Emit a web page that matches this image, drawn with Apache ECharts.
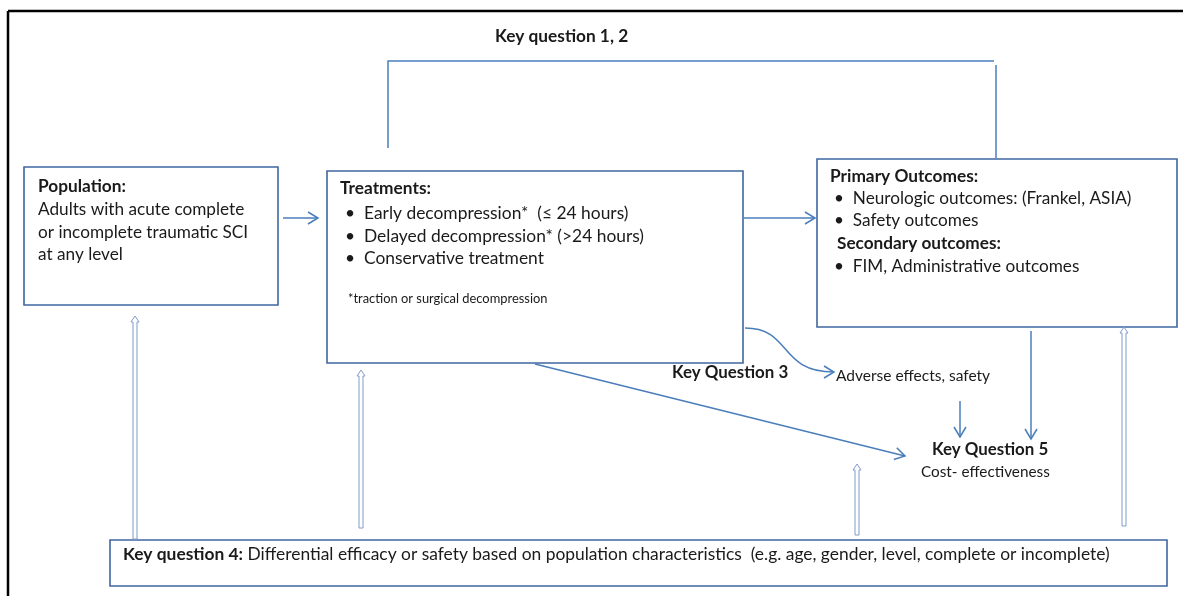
<!DOCTYPE html>
<html>
<head>
<meta charset="utf-8">
<script src="https://cdn.jsdelivr.net/npm/echarts@6/dist/echarts.min.js"></script>
<style>
  html, body { margin: 0; padding: 0; background: #fff; }
  #chart { width: 1183px; height: 596px; }
</style>
</head>
<body>
<div id="chart"></div>
<script>
// canvas is used as a plain x/y plane (pixels, y pointing down)
const W = 1183, H = 596;

// boxes: [x0, y0, x1, y1]
const boxes = [
  [24, 167, 278, 305],    // population
  [327, 171, 743, 363],   // treatments
  [817, 159, 1177, 327],  // outcomes
  [110, 540, 1167, 586]   // key question 4
];

// plain lines without heads (outer frame + key question 1,2 bracket)
const frameLines = [
  [[8, 11], [W, 11]],
  [[8, 11], [8, H]]
];
const bracketLines = [
  [[388, 148], [388, 61], [994, 61]],
  [[996, 65], [996, 158]]
];

// lines with an open arrow head at the last point
const arrowLines = [
  [[283, 218], [318, 218]],
  [[744, 218], [815, 218]],
  [[535, 364], [905, 456]],
  [[960, 401], [960, 437]],
  [[1031, 331], [1031, 439]]
];
// curved arrow: cubic bezier [start, ctrl1, ctrl2, end]
const curveArrows = [
  [[745, 328], [792, 328], [778, 372], [834, 372]]
];

// hollow up arrows: [x, yBottom, yTop]
const hollowArrows = [
  [135, 539, 316],
  [361, 528, 370],
  [857, 535, 464],
  [1124, 526, 327]
];

// texts: [x, y, text, size]  ({b|..} marks bold)
const texts = [
  [495, 36, '{b|Key question 1, 2}', 17.3],
  [38, 186, '{b|Population:}', 17.3],
  [38, 209, 'Adults with acute complete', 17.2],
  [38, 232, 'or incomplete traumatic SCI', 17.2],
  [38, 254, 'at any level', 17.2],
  [340, 188, '{b|Treatments:}', 17.3],
  [345, 213, '•  Early decompression*  (≤ 24 hours)', 17.4],
  [345, 236, '•  Delayed decompression* (>24 hours)', 17.4],
  [345, 258, '•  Conservative treatment', 17.4],
  [348, 299, '*traction or surgical decompression', 12.9],
  [830, 176, '{b|Primary Outcomes:}', 17.3],
  [834, 198, '•  Neurologic outcomes: (Frankel, ASIA)', 17.2],
  [834, 220, '•  Safety outcomes', 17.2],
  [837, 243, '{b|Secondary outcomes:}', 17.2],
  [834, 266, '•  FIM, Administrative outcomes', 17.2],
  [672, 373, '{b|Key Question 3}', 16.9],
  [836, 376, 'Adverse effects, safety', 15.5],
  [932, 450, '{b|Key Question 5}', 16.9],
  [921, 472, 'Cost- effectiveness', 15.3],
  [123, 554, '{b|Key question 4:} Differential efficacy or safety based on population characteristics  (e.g. age, gender, level, complete or incomplete)', 17.4]
];

const FONT = 'Lato, "Open Sans", sans-serif';
const BLUE = '#4a7ebb';
const BOX = '#4066a0';

const chart = echarts.init(document.getElementById('chart'));

const toPts = (api, pts) => pts.map(p => api.coord(p));

const headPts = (from, to, len, half) => {
  const dx = to[0] - from[0], dy = to[1] - from[1];
  const d = Math.sqrt(dx * dx + dy * dy) || 1;
  const ux = dx / d, uy = dy / d;
  return [
    [to[0] - ux * len - uy * half, to[1] - uy * len + ux * half],
    to,
    [to[0] - ux * len + uy * half, to[1] - uy * len - ux * half]
  ];
};

const option = {
  animation: false,
  grid: { left: 0, right: 0, top: 0, bottom: 0 },
  xAxis: { type: 'value', min: 0, max: W, show: false },
  yAxis: { type: 'value', min: 0, max: H, inverse: true, show: false },
  series: [
    {
      type: 'custom',
      name: 'frame',
      data: frameLines.map((l, i) => [i]),
      renderItem: (params, api) => ({
        type: 'polyline',
        shape: { points: toPts(api, frameLines[params.dataIndex]) },
        style: { stroke: '#000', lineWidth: 2.5, fill: null }
      })
    },
    {
      type: 'custom',
      name: 'boxes',
      data: boxes,
      renderItem: (params, api) => {
        const a = api.coord([api.value(0), api.value(1)]);
        const b = api.coord([api.value(2), api.value(3)]);
        return {
          type: 'rect',
          shape: { x: a[0], y: a[1], width: b[0] - a[0], height: b[1] - a[1] },
          style: { fill: '#fff', stroke: BOX, lineWidth: 1.6 }
        };
      }
    },
    {
      type: 'custom',
      name: 'bracket',
      data: bracketLines.map((l, i) => [i]),
      renderItem: (params, api) => ({
        type: 'polyline',
        shape: { points: toPts(api, bracketLines[params.dataIndex]) },
        style: { stroke: BLUE, lineWidth: 1.5, fill: null }
      })
    },
    {
      type: 'custom',
      name: 'arrows',
      data: arrowLines.map((l, i) => [i]),
      renderItem: (params, api) => {
        const pts = toPts(api, arrowLines[params.dataIndex]);
        const n = pts.length;
        return {
          type: 'group',
          children: [
            { type: 'polyline', shape: { points: pts }, style: { stroke: BLUE, lineWidth: 1.5, fill: null } },
            { type: 'polyline', shape: { points: headPts(pts[n - 2], pts[n - 1], 10, 6) }, style: { stroke: BLUE, lineWidth: 1.5, fill: null } }
          ]
        };
      }
    },
    {
      type: 'custom',
      name: 'curves',
      data: curveArrows.map((l, i) => [i]),
      renderItem: (params, api) => {
        const p = toPts(api, curveArrows[params.dataIndex]);
        return {
          type: 'group',
          children: [
            {
              type: 'bezierCurve',
              shape: { x1: p[0][0], y1: p[0][1], cpx1: p[1][0], cpy1: p[1][1], cpx2: p[2][0], cpy2: p[2][1], x2: p[3][0], y2: p[3][1] },
              style: { stroke: BLUE, lineWidth: 1.5, fill: null }
            },
            { type: 'polyline', shape: { points: headPts(p[2], p[3], 10, 6) }, style: { stroke: BLUE, lineWidth: 1.5, fill: null } }
          ]
        };
      }
    },
    {
      type: 'custom',
      name: 'hollow',
      data: hollowArrows,
      renderItem: (params, api) => {
        const b = api.coord([api.value(0), api.value(1)]);
        const t = api.coord([api.value(0), api.value(2)]);
        const x = b[0], w = 2, hw = 4, hh = 6;
        return {
          type: 'polygon',
          shape: { points: [
            [x - w, b[1]], [x - w, t[1] + hh], [x - hw, t[1] + hh], [x, t[1]],
            [x + hw, t[1] + hh], [x + w, t[1] + hh], [x + w, b[1]]
          ] },
          style: { fill: '#fff', stroke: '#7f9ccc', lineWidth: 1 }
        };
      }
    },
    {
      type: 'custom',
      name: 'texts',
      data: texts.map(t => [t[0], t[1]]),
      renderItem: (params, api) => {
        const t = texts[params.dataIndex];
        const p = api.coord([api.value(0), api.value(1)]);
        return {
          type: 'text',
          x: p[0],
          y: p[1],
          style: {
            text: t[2],
            fill: '#1a1a1a',
            fontFamily: FONT,
            fontSize: t[3],
            verticalAlign: 'middle',
            align: 'left',
            rich: {
              b: { fontWeight: 'bold', fontFamily: FONT, fontSize: t[3], fill: '#1a1a1a' }
            }
          }
        };
      }
    }
  ]
};

chart.setOption(option);
</script>
</body>
</html>
